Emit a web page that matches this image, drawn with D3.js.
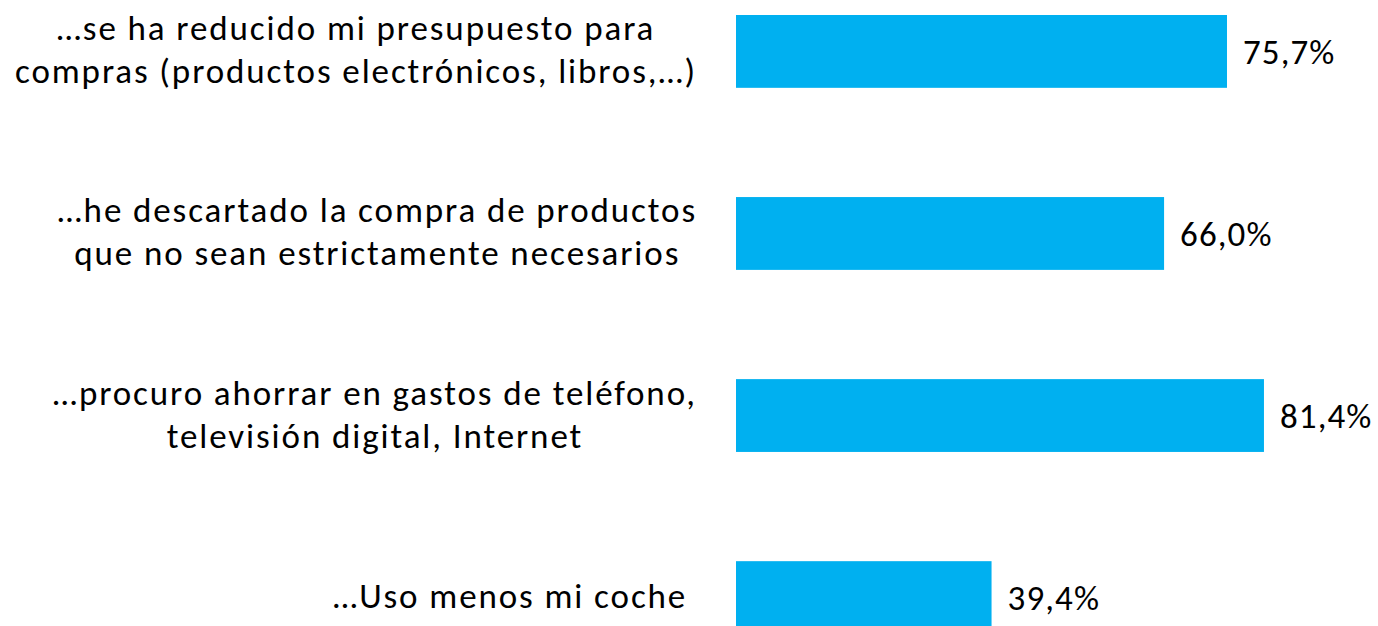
<!DOCTYPE html>
<html>
<head>
<meta charset="utf-8">
<script src="https://cdn.jsdelivr.net/npm/d3@7"></script>
<style>
  body { margin: 0; background: #fff; }
  text { font-family: Calibri, Carlito, sans-serif; fill: #000; }
</style>
</head>
<body>
<svg id="chart"></svg>
<script>
// category labels, one array of lines per bar (top to bottom)
const categories = [
  ["…se ha reducido mi presupuesto para", "compras (productos electrónicos, libros,…)"],
  ["…he descartado la compra de productos", "que no sean estrictamente necesarios"],
  ["…procuro ahorrar en gastos de teléfono,", "televisión digital, Internet"],
  ["…Uso menos mi coche "]
];
const values = [75.7, 66.0, 81.4, 39.4];
const valueLabels = ["75,7%", "66,0%", "81,4%", "39,4%"];

const width = 1378, height = 626;
const fontSize = 35;
const lineHeight = 43;

const svg = d3.select("#chart")
  .attr("width", width)
  .attr("height", height);

const ids = categories.map((d, i) => i);

// x scale: percent -> pixels
const x = d3.scaleLinear().domain([0, 100]).range([736, 1384.6]);

// y scale: one band per category
const y = d3.scaleBand()
  .domain(ids)
  .range([15, 634])
  .paddingInner(0.6)
  .paddingOuter(0);

// bars
svg.selectAll("rect.bar")
  .data(ids)
  .join("rect")
  .attr("class", "bar")
  .attr("x", x(0))
  .attr("y", i => y(i))
  .attr("width", i => x(values[i]) - x(0))
  .attr("height", y.bandwidth())
  .attr("fill", "#00B0F0");

// value labels
svg.selectAll("text.value")
  .data(ids)
  .join("text")
  .attr("class", "value")
  .attr("x", i => x(values[i]) + 16)
  .attr("y", i => y(i) + y.bandwidth() / 2 + 12.5)
  .style("font-size", fontSize + "px")
  .style("letter-spacing", "1.1px")
  .text(i => valueLabels[i]);

// category labels: lines centred inside a block that is right-aligned at the axis
const labelRight = 697;
const labels = svg.selectAll("g.label")
  .data(ids)
  .join("g")
  .attr("class", "label");

labels.each(function (i) {
  const g = d3.select(this);
  const lines = categories[i];
  const cy = y(i) + y.bandwidth() / 2;
  const texts = lines.map((line, k) =>
    g.append("text")
      .attr("y", cy + (k - (lines.length - 1) / 2) * lineHeight + 10.5)
      .attr("text-anchor", "middle")
      .style("font-size", fontSize + "px")
      .style("letter-spacing", "1.9px")
      .style("white-space", "pre")
      .text(line)
  );
  const maxW = d3.max(texts, t => t.node().getComputedTextLength());
  texts.forEach(t => t.attr("x", labelRight - maxW / 2));
});
</script>
</body>
</html>
